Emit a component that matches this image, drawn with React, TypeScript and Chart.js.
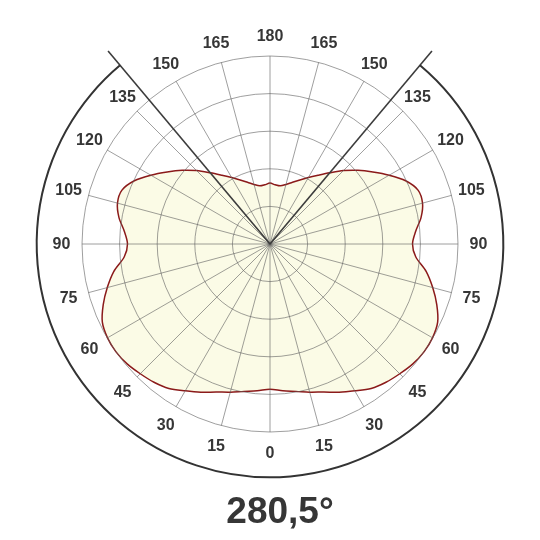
import React, { useEffect, useRef } from "react";
import { Chart, registerables } from "chart.js";

Chart.register(...registerables);

// half profile, every 5 deg from nadir (0) to zenith (180), mirrored for the other half
const profileAngles = [
  0, 5, 10, 15, 20, 25, 30, 35, 40, 45, 50, 55, 60, 65, 70, 75, 80, 85, 90,
  95, 100, 105, 110, 115, 120, 125, 130, 135, 140, 145, 150, 155, 160, 165,
  170, 175, 180,
];
const intensity = [
  386, 392, 398, 408, 419, 435, 451, 469, 480, 488, 496, 500, 499, 492, 472,
  448, 422, 389, 379, 389, 408, 420, 419, 398, 366, 334, 305, 276, 247, 223,
  204, 188, 175, 164, 157, 158, 162,
];
const scaleMax = 500;
const cutoffAngle = 140;
const title = "280,5°";

const step = profileAngles[1] - profileAngles[0];
const fullAngles: number[] = [];
for (let a = 0; a < 360; a += step) fullAngles.push(a);
const labels = fullAngles.map((a) => (a <= 180 ? a : 360 - a));
const values = labels.map((a) => intensity[profileAngles.indexOf(a)]);

const gridColor = "rgba(95,95,95,0.6)";

const decorPlugin = {
  id: "decor",
  afterDraw(chart: any) {
    const scale = chart.scales.r;
    const ctx = chart.ctx;
    const cx = scale.xCenter;
    const cy = scale.yCenter;
    const R = scale.drawingArea;
    const rad = (d: number) => (d * Math.PI) / 180;
    ctx.save();
    // cut-off lines
    ctx.strokeStyle = "#3c3c3c";
    ctx.lineWidth = 1.6;
    [90 - cutoffAngle, 90 + cutoffAngle].forEach((phi) => {
      ctx.beginPath();
      ctx.moveTo(cx, cy);
      ctx.lineTo(cx + Math.cos(rad(phi)) * R * 1.34, cy + Math.sin(rad(phi)) * R * 1.34);
      ctx.stroke();
    });
    // outer arc
    ctx.strokeStyle = "#333";
    ctx.lineWidth = 2;
    ctx.beginPath();
    ctx.arc(cx, cy, R * 1.241, rad(90 - cutoffAngle), rad(90 + cutoffAngle), false);
    ctx.stroke();
    // angle labels
    ctx.fillStyle = "#363636";
    ctx.font = "bold 16px 'Liberation Sans', Arial, sans-serif";
    ctx.textAlign = "center";
    ctx.textBaseline = "middle";
    fullAngles.forEach((a, i) => {
      if (a % 15 !== 0) return;
      const p = scale.getPointPosition(i, R * 1.109);
      ctx.fillText(String(labels[i]), p.x, p.y + 1);
    });
    // title
    ctx.font = "bold 37px 'Liberation Sans', Arial, sans-serif";
    ctx.textBaseline = "alphabetic";
    ctx.fillText(title, cx + 10, cy + 279);
    ctx.restore();
  },
};

export default function App() {
  const canvasRef = useRef<HTMLCanvasElement | null>(null);

  useEffect(() => {
    const chart = new Chart(canvasRef.current as HTMLCanvasElement, {
      type: "radar",
      data: {
        labels,
        datasets: [
          {
            data: values,
            borderColor: "#8b1a1a",
            borderWidth: 1.5,
            backgroundColor: "#fbfbe6",
            fill: true,
            pointRadius: 0,
            tension: 0.3,
          },
        ],
      },
      options: {
        animation: false,
        responsive: true,
        maintainAspectRatio: false,
        layout: { padding: { left: 81.5, right: 81.5, top: 55.5, bottom: 107.5 } },
        plugins: { legend: { display: false }, tooltip: { enabled: false } },
        scales: {
          r: {
            startAngle: 180,
            min: 0,
            max: scaleMax,
            ticks: { display: false, stepSize: 100 },
            pointLabels: { display: false },
            grid: { circular: true, color: gridColor, lineWidth: 1, z: 1 },
            angleLines: {
              color: (c: any) => (c.index % 3 === 0 ? gridColor : "transparent"),
              lineWidth: 1,
            },
          },
        },
      },
      plugins: [decorPlugin],
    });
    return () => chart.destroy();
  }, []);

  return (
    <div style={{ position: "absolute", left: 0, top: 0, width: 540, height: 540, background: "#fff" }}>
      <canvas ref={canvasRef} />
    </div>
  );
}
